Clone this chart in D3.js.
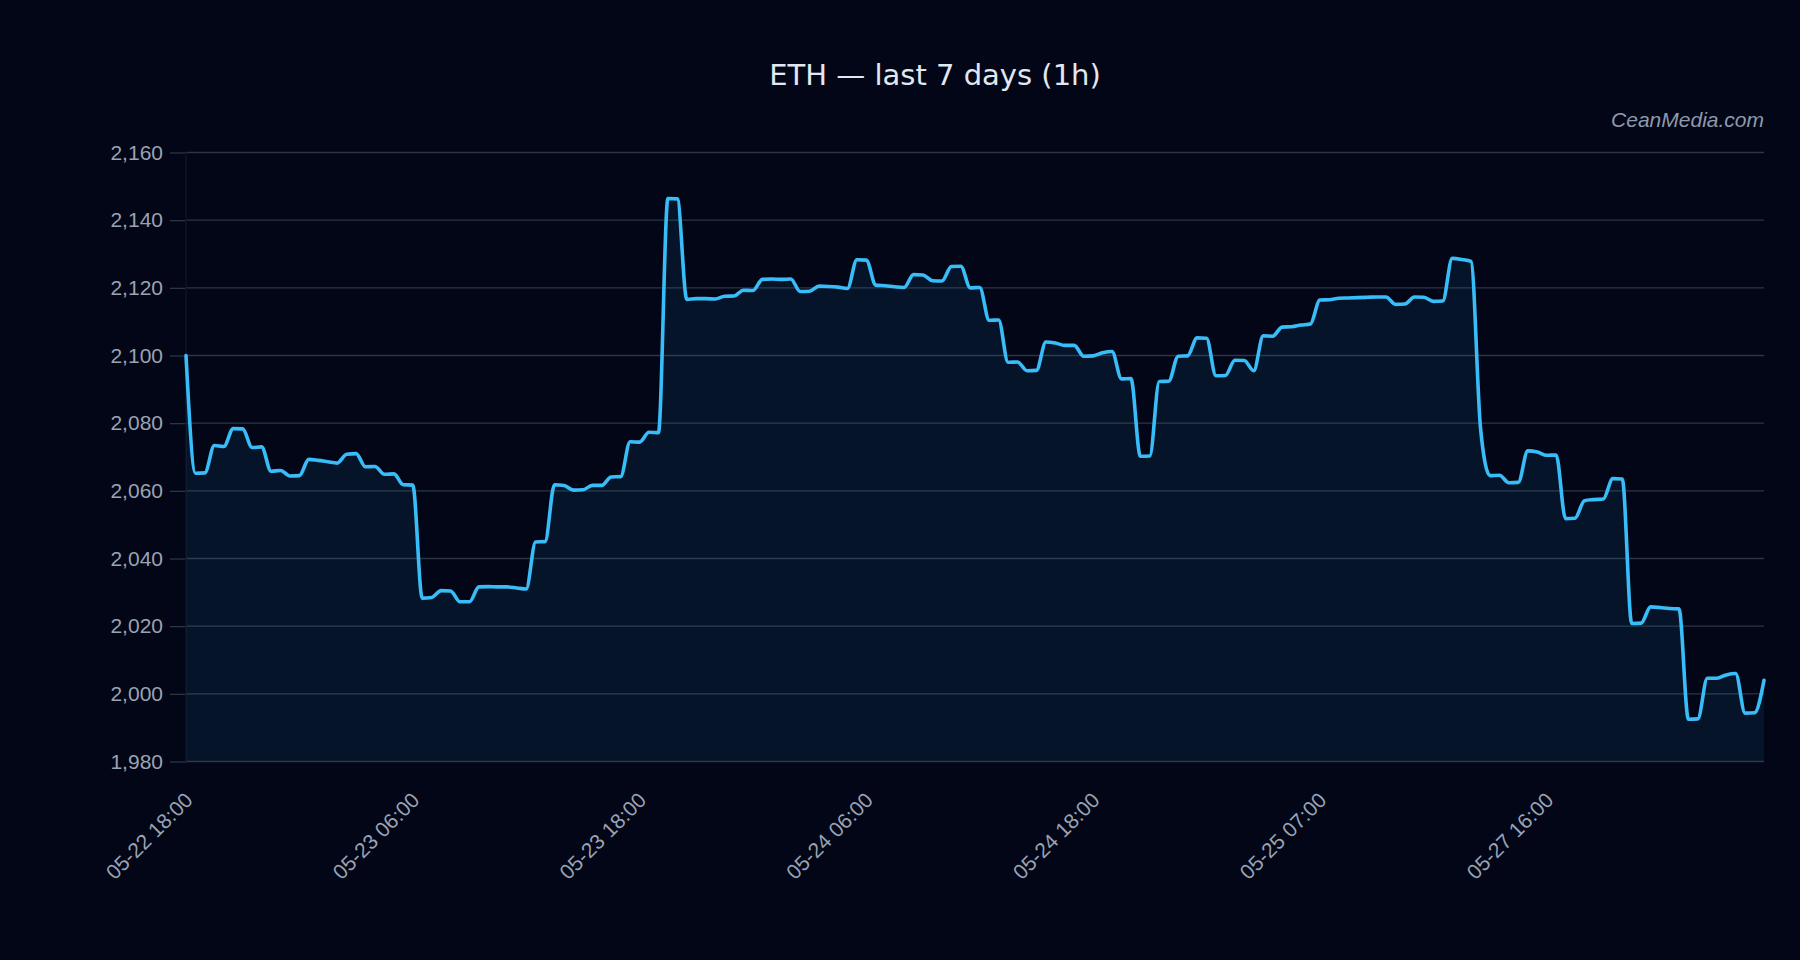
<!DOCTYPE html>
<html>
<head>
<meta charset="utf-8">
<script src="https://cdn.jsdelivr.net/npm/d3@7"></script>
<style>
  html, body { margin: 0; padding: 0; background: #020617; }
  svg { display: block; }
</style>
</head>
<body>
<div id="chart"></div>
<script>
// ---- data (hourly closes) ----
const prices = [
  2100.0, 2065.2, 2065.3, 2073.4, 2073.1, 2078.4, 2078.3, 2072.8, 2073.0, 2065.8,
  2066.0, 2064.4, 2064.5, 2069.3, 2069.0, 2068.6, 2068.2, 2070.8, 2071.0, 2067.1,
  2067.2, 2064.9, 2065.0, 2061.8, 2061.7, 2028.3, 2028.5, 2030.5, 2030.4, 2027.2,
  2027.2, 2031.6, 2031.7, 2031.6, 2031.6, 2031.3, 2031.0, 2044.9, 2045.0, 2061.8,
  2061.6, 2060.2, 2060.3, 2061.6, 2061.6, 2064.1, 2064.2, 2074.5, 2074.4, 2077.3,
  2077.2, 2146.4, 2146.3, 2116.6, 2116.8, 2116.8, 2116.7, 2117.5, 2117.6, 2119.3,
  2119.2, 2122.5, 2122.6, 2122.5, 2122.6, 2118.9, 2119.0, 2120.5, 2120.4, 2120.2,
  2119.8, 2128.3, 2128.2, 2120.8, 2120.6, 2120.3, 2120.1, 2123.9, 2123.8, 2122.1,
  2122.0, 2126.3, 2126.4, 2120.0, 2120.1, 2110.4, 2110.5, 2098.0, 2098.1, 2095.5,
  2095.6, 2104.0, 2103.7, 2103.0, 2103.0, 2099.8, 2099.9, 2100.8, 2101.2, 2093.1,
  2093.2, 2070.2, 2070.3, 2092.3, 2092.4, 2099.8, 2099.9, 2105.2, 2105.1, 2094.0,
  2094.1, 2098.6, 2098.5, 2095.5, 2105.8, 2105.7, 2108.4, 2108.5, 2109.0, 2109.3,
  2116.4, 2116.5, 2116.9, 2117.0, 2117.1, 2117.2, 2117.3, 2117.3, 2115.1, 2115.2,
  2117.3, 2117.2, 2116.0, 2116.1, 2128.7, 2128.4, 2127.8, 2078.5, 2064.5, 2064.6,
  2062.4, 2062.5, 2071.8, 2071.5, 2070.5, 2070.6, 2051.8, 2051.9, 2057.1, 2057.4,
  2057.6, 2063.6, 2063.5, 2020.8, 2020.9, 2025.7, 2025.5, 2025.2, 2025.1, 1992.5,
  1992.6, 2004.6, 2004.6, 2005.6, 2006.0, 1994.3, 1994.4, 2004.0
];
const tickLabels = ["05-22 18:00", "05-23 06:00", "05-23 18:00", "05-24 06:00",
                    "05-24 18:00", "05-25 07:00", "05-27 16:00"];
const tickIndices = [0, 24, 48, 72, 96, 120, 144];
const yTicks = [1980, 2000, 2020, 2040, 2060, 2080, 2100, 2120, 2140, 2160];
const yDomain = [1980, 2160];
const title = "ETH \u2014 last 7 days (1h)";
const watermark = "CeanMedia.com";

// ---- layout ----
const W = 1800, H = 960;
const margin = { top: 152.5, right: 36, bottom: 198.5, left: 186 };
const iw = W - margin.left - margin.right;
const ih = H - margin.top - margin.bottom;
const font = "'Liberation Sans', Arial, sans-serif";

const svg = d3.select("#chart").append("svg")
  .attr("width", W).attr("height", H);

svg.append("rect").attr("width", W).attr("height", H).attr("fill", "#020617");

const g = svg.append("g").attr("transform", `translate(${margin.left},${margin.top})`);

const idx = d3.range(prices.length);
const x = d3.scalePoint().domain(idx).range([0, iw]);
const y = d3.scaleLinear().domain(yDomain).range([ih, 0]);

// y axis with ticks + separate grid
const yAxis = g.append("g")
  .call(d3.axisLeft(y).tickValues(yTicks).tickFormat(d3.format(",")).tickSize(16).tickPadding(7));
yAxis.select(".domain").remove();
yAxis.selectAll(".tick line").attr("stroke", "#2b3546").attr("stroke-width", 1.3);
yAxis.selectAll(".tick text")
  .attr("fill", "#9aa3b2")
  .style("font-family", font)
  .style("font-size", "21px");

g.append("g").selectAll("line").data(yTicks).join("line")
  .attr("x1", 0).attr("x2", iw)
  .attr("y1", d => y(d)).attr("y2", d => y(d))
  .attr("stroke", "#2b3546").attr("stroke-width", 1.3);

// left axis line (dark)
g.append("line").attr("x1", 0).attr("x2", 0).attr("y1", 0).attr("y2", ih)
  .attr("stroke", "#0d1526").attr("stroke-width", 1.5);

// area + line
const area = d3.area()
  .x((d, i) => x(i)).y0(ih).y1(d => y(d))
  .curve(d3.curveMonotoneX);
const line = d3.line()
  .x((d, i) => x(i)).y(d => y(d))
  .curve(d3.curveMonotoneX);

g.append("path").datum(prices).attr("d", area)
  .attr("fill", "#38bdf8").attr("fill-opacity", 0.08);
g.append("path").datum(prices).attr("d", line)
  .attr("fill", "none").attr("stroke", "#38bdf8").attr("stroke-width", 3.6)
  .attr("stroke-linejoin", "round").attr("stroke-linecap", "round");

// x labels (rotated)
const xl = g.append("g").attr("transform", `translate(0,${ih})`);
xl.selectAll("text").data(tickIndices).join("text")
  .attr("transform", d => `translate(${x(d) + 8},${40}) rotate(-45)`)
  .attr("text-anchor", "end")
  .attr("fill", "#9aa3b2")
  .style("font-family", font)
  .style("font-size", "21px")
  .text((d, i) => tickLabels[i]);

// title
svg.append("text")
  .attr("x", 935).attr("y", 85)
  .attr("text-anchor", "middle")
  .attr("fill", "#e2e8f0")
  .style("font-family", "'DejaVu Sans', sans-serif")
  .style("font-size", "29px")
  .text(title);

// watermark
svg.append("text")
  .attr("x", margin.left + iw).attr("y", 127)
  .attr("text-anchor", "end")
  .attr("fill", "#8f99ab")
  .style("font-family", font)
  .style("font-style", "italic")
  .style("font-size", "21px")
  .text(watermark);
</script>
</body>
</html>
